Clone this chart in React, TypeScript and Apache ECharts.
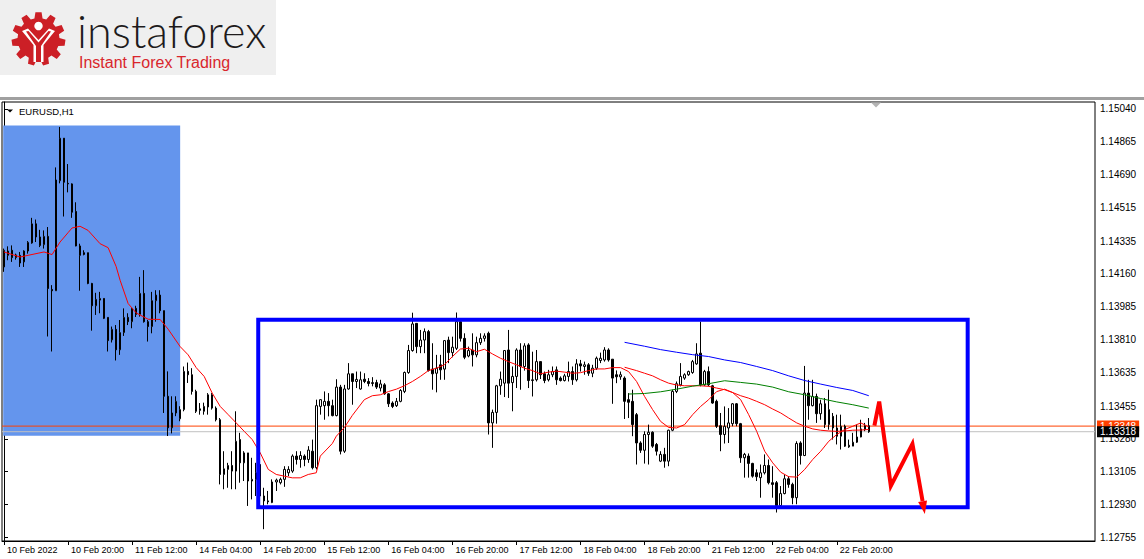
import React, { useEffect, useRef } from "react";
import * as echarts from "echarts";

// ---------- DATA ----------
const symbolTitle = "EURUSD,H1";
const xTickIndex = [0, 16, 32, 48, 64, 80, 96, 112, 128, 144, 160, 176, 192, 208];
const xTickLabels = [
  "10 Feb 2022", "10 Feb 20:00", "11 Feb 12:00", "14 Feb 04:00", "14 Feb 20:00",
  "15 Feb 12:00", "16 Feb 04:00", "16 Feb 20:00", "17 Feb 12:00", "18 Feb 04:00",
  "18 Feb 20:00", "21 Feb 12:00", "22 Feb 04:00", "22 Feb 20:00",
];
const yTicks = [
  1.12755, 1.1293, 1.13105, 1.1328, 1.13455, 1.13635, 1.1381, 1.13985,
  1.1416, 1.14335, 1.14515, 1.1469, 1.14865, 1.1504,
];
const totalSlots = 273;

// [open, close, low, high]
const ohlc: number[][] = [
  [1.14197, 1.14286, 1.14171, 1.14295], [1.14259, 1.14282, 1.14233, 1.14307], [1.14286, 1.14247, 1.14224, 1.14312],
  [1.14247, 1.14261, 1.14236, 1.14268], [1.14259, 1.14218, 1.14197, 1.14277], [1.14224, 1.14282, 1.14197, 1.14286],
  [1.14282, 1.14328, 1.14268, 1.14335], [1.14325, 1.14427, 1.14321, 1.14459], [1.14427, 1.14357, 1.1433, 1.1445],
  [1.14357, 1.14312, 1.14303, 1.14395], [1.14316, 1.1436, 1.14295, 1.14392], [1.1436, 1.14082, 1.13826, 1.1441],
  [1.14077, 1.1407, 1.13746, 1.141], [1.1407, 1.14661, 1.1407, 1.14728], [1.14657, 1.14884, 1.14643, 1.14944],
  [1.14884, 1.14649, 1.14466, 1.14884], [1.14643, 1.1464, 1.14595, 1.14746], [1.1464, 1.14489, 1.14459, 1.14643],
  [1.14493, 1.14309, 1.14307, 1.14542], [1.14309, 1.14259, 1.1407, 1.14321], [1.14273, 1.14264, 1.14259, 1.14286],
  [1.14273, 1.14109, 1.14105, 1.14273], [1.14109, 1.1399, 1.13857, 1.14112], [1.1399, 1.14024, 1.13941, 1.14059],
  [1.1402, 1.14029, 1.1395, 1.14064], [1.14029, 1.13923, 1.13919, 1.14029], [1.13928, 1.13804, 1.13746, 1.13928],
  [1.13808, 1.13864, 1.13794, 1.13879], [1.13864, 1.13755, 1.13698, 1.13887], [1.13755, 1.13847, 1.13728, 1.13914],
  [1.13847, 1.13928, 1.13829, 1.13976], [1.13928, 1.13905, 1.13887, 1.1395], [1.13905, 1.13976, 1.1387, 1.13981],
  [1.13976, 1.13944, 1.1393, 1.1399], [1.13944, 1.14056, 1.13932, 1.14144], [1.14056, 1.13905, 1.139, 1.1418],
  [1.13905, 1.13879, 1.13799, 1.13914], [1.13879, 1.14017, 1.13843, 1.14064], [1.14017, 1.14047, 1.13905, 1.14073],
  [1.14047, 1.13964, 1.1395, 1.14073], [1.13964, 1.13507, 1.13418, 1.13964], [1.13507, 1.13339, 1.13295, 1.1364],
  [1.13339, 1.13418, 1.13309, 1.13507], [1.13418, 1.1348, 1.13401, 1.13507], [1.13387, 1.13436, 1.13374, 1.13454],
  [1.13436, 1.1364, 1.13427, 1.13666], [1.1364, 1.13622, 1.13578, 1.13687], [1.13622, 1.13533, 1.13516, 1.13657],
  [1.13533, 1.13427, 1.13418, 1.13542], [1.1344, 1.13432, 1.13409, 1.13471], [1.13427, 1.13453, 1.13409, 1.13473],
  [1.1345, 1.13515, 1.13409, 1.13524], [1.13515, 1.13444, 1.13436, 1.13524], [1.13444, 1.13382, 1.13373, 1.13453],
  [1.13382, 1.1309, 1.13037, 1.13391], [1.1309, 1.1312, 1.13011, 1.13214], [1.13117, 1.13138, 1.13019, 1.13152],
  [1.13138, 1.13108, 1.13011, 1.13214], [1.13108, 1.13267, 1.13011, 1.13427], [1.13276, 1.13152, 1.13046, 1.13312],
  [1.13152, 1.13205, 1.13055, 1.13214], [1.13205, 1.13055, 1.12922, 1.13205], [1.13055, 1.13064, 1.12957, 1.13179],
  [1.13064, 1.13099, 1.12975, 1.13152], [1.13143, 1.12975, 1.12931, 1.1317], [1.12975, 1.12949, 1.12798, 1.13019],
  [1.12949, 1.12944, 1.12931, 1.13002], [1.1294, 1.1305, 1.12937, 1.13064], [1.1305, 1.1306, 1.13002, 1.13068],
  [1.13046, 1.13064, 1.13037, 1.13073], [1.13064, 1.13117, 1.13024, 1.13134], [1.13099, 1.13117, 1.13081, 1.13134],
  [1.13108, 1.13188, 1.13099, 1.13197], [1.13188, 1.1317, 1.13143, 1.13214], [1.1317, 1.13191, 1.13126, 1.13214],
  [1.13188, 1.1317, 1.13134, 1.13197], [1.1317, 1.1322, 1.13152, 1.13241], [1.13214, 1.13126, 1.13117, 1.13276],
  [1.13126, 1.13457, 1.13117, 1.13489], [1.13453, 1.13489, 1.13409, 1.13492], [1.13457, 1.1348, 1.13382, 1.13533],
  [1.1348, 1.13457, 1.134, 1.13524], [1.13457, 1.13404, 1.134, 1.13489], [1.13404, 1.13556, 1.134, 1.13598],
  [1.13556, 1.13214, 1.13197, 1.13568], [1.13214, 1.13546, 1.13205, 1.13568], [1.13546, 1.13627, 1.13542, 1.13684],
  [1.13627, 1.13586, 1.13462, 1.13627], [1.13586, 1.13597, 1.13551, 1.13639], [1.13546, 1.13595, 1.13542, 1.13639],
  [1.13598, 1.13586, 1.13577, 1.1363], [1.13586, 1.13575, 1.1356, 1.13604], [1.13575, 1.1358, 1.1356, 1.13609],
  [1.1358, 1.13556, 1.13546, 1.13595], [1.13551, 1.13573, 1.13533, 1.13595], [1.13568, 1.1352, 1.13515, 1.13577],
  [1.1352, 1.13467, 1.1345, 1.13524], [1.13471, 1.13453, 1.13444, 1.1348], [1.13457, 1.1348, 1.1345, 1.13498],
  [1.1348, 1.13538, 1.13475, 1.13545], [1.13533, 1.13634, 1.13524, 1.13639], [1.13634, 1.13751, 1.13627, 1.13781],
  [1.13751, 1.13893, 1.13745, 1.13953], [1.13896, 1.13772, 1.13737, 1.13896], [1.13772, 1.13807, 1.13737, 1.13861],
  [1.13807, 1.13852, 1.13737, 1.13869], [1.13852, 1.13645, 1.13639, 1.13861], [1.13652, 1.13627, 1.13542, 1.1379],
  [1.1363, 1.13657, 1.13528, 1.13728], [1.13675, 1.13648, 1.13595, 1.13728], [1.13652, 1.13804, 1.13595, 1.13807],
  [1.13807, 1.1374, 1.13684, 1.13825], [1.1374, 1.13769, 1.13715, 1.13825], [1.13763, 1.13905, 1.13754, 1.13954],
  [1.13905, 1.13816, 1.13799, 1.13923], [1.13816, 1.13715, 1.13705, 1.13843], [1.13722, 1.13751, 1.13715, 1.13772],
  [1.13754, 1.13728, 1.13666, 1.13843], [1.13728, 1.13793, 1.13715, 1.13825], [1.13793, 1.13816, 1.13781, 1.13843],
  [1.13816, 1.13829, 1.13799, 1.13843], [1.13843, 1.13365, 1.13303, 1.13852], [1.13365, 1.13421, 1.13232, 1.13436],
  [1.13421, 1.13563, 1.13361, 1.13568], [1.13563, 1.13598, 1.13515, 1.13639], [1.13577, 1.13751, 1.13503, 1.13754],
  [1.13754, 1.13577, 1.13498, 1.13861], [1.1358, 1.13613, 1.13427, 1.13666], [1.13613, 1.13754, 1.13551, 1.13763],
  [1.13754, 1.13666, 1.13542, 1.1379], [1.13666, 1.13776, 1.13644, 1.1379], [1.13781, 1.13591, 1.13551, 1.1379],
  [1.13591, 1.13595, 1.13506, 1.13745], [1.13595, 1.13692, 1.13586, 1.13754], [1.13692, 1.13622, 1.13599, 1.13692],
  [1.13627, 1.13591, 1.13577, 1.13639], [1.13595, 1.13622, 1.13586, 1.13648], [1.13622, 1.13639, 1.13609, 1.13666],
  [1.13648, 1.13595, 1.13568, 1.13666], [1.13604, 1.13591, 1.13586, 1.13613], [1.13591, 1.13616, 1.13586, 1.13627],
  [1.13613, 1.13639, 1.13586, 1.13692], [1.13639, 1.13595, 1.13568, 1.13666], [1.13595, 1.1368, 1.13586, 1.13705],
  [1.1368, 1.13669, 1.13639, 1.13701], [1.13666, 1.13675, 1.13622, 1.13692], [1.13675, 1.1363, 1.13616, 1.13684],
  [1.1363, 1.13657, 1.13609, 1.13675], [1.13657, 1.1371, 1.13648, 1.13719], [1.13698, 1.1371, 1.13684, 1.1374],
  [1.13701, 1.13754, 1.13692, 1.13769], [1.13754, 1.13701, 1.13692, 1.13763], [1.13705, 1.13604, 1.13467, 1.13705],
  [1.13622, 1.13611, 1.13577, 1.13645], [1.13611, 1.13622, 1.13595, 1.13639], [1.13604, 1.1348, 1.13386, 1.13613],
  [1.13489, 1.13475, 1.13391, 1.13524], [1.1348, 1.13356, 1.13294, 1.13542], [1.13409, 1.13258, 1.13143, 1.13418],
  [1.13258, 1.13219, 1.13205, 1.13267], [1.13219, 1.13303, 1.13148, 1.1332], [1.13303, 1.13315, 1.13143, 1.13356],
  [1.13315, 1.13241, 1.13232, 1.1332], [1.1325, 1.13214, 1.13191, 1.13258], [1.13161, 1.13197, 1.13156, 1.13214],
  [1.13197, 1.13161, 1.13126, 1.13232], [1.13161, 1.13326, 1.13134, 1.13329], [1.13326, 1.13533, 1.13321, 1.13542],
  [1.13533, 1.13574, 1.13524, 1.13586], [1.13568, 1.13613, 1.1356, 1.13684], [1.13604, 1.13622, 1.13595, 1.1363],
  [1.13622, 1.13639, 1.13616, 1.13644], [1.13634, 1.13692, 1.13627, 1.13701], [1.1368, 1.13733, 1.13675, 1.1379],
  [1.13737, 1.13568, 1.1356, 1.13905], [1.13568, 1.13639, 1.13563, 1.13648], [1.13639, 1.13568, 1.1356, 1.13666],
  [1.13563, 1.13471, 1.13467, 1.13568], [1.1348, 1.13347, 1.13338, 1.13489], [1.1335, 1.13303, 1.13214, 1.13418],
  [1.13303, 1.13347, 1.13255, 1.13453], [1.13338, 1.13365, 1.13258, 1.13444], [1.13361, 1.13467, 1.13347, 1.13471],
  [1.13467, 1.13361, 1.13347, 1.13471], [1.13361, 1.13179, 1.13152, 1.13365], [1.13179, 1.13197, 1.13073, 1.13205],
  [1.13188, 1.13149, 1.13073, 1.13202], [1.13149, 1.13081, 1.13073, 1.13152], [1.13099, 1.13078, 1.13055, 1.13117],
  [1.13073, 1.13099, 1.12966, 1.13143], [1.13099, 1.13138, 1.1309, 1.13197], [1.13138, 1.13046, 1.13037, 1.1317],
  [1.13046, 1.13037, 1.12966, 1.13134], [1.13046, 1.12924, 1.12887, 1.13055], [1.12924, 1.12988, 1.12922, 1.13028],
  [1.12988, 1.13067, 1.12984, 1.1309], [1.13067, 1.13037, 1.13019, 1.13081], [1.13037, 1.12966, 1.12931, 1.13046],
  [1.12966, 1.13255, 1.12931, 1.13267], [1.13258, 1.13191, 1.13143, 1.13267], [1.13191, 1.13524, 1.13188, 1.13669],
  [1.13524, 1.13457, 1.13382, 1.13595], [1.13457, 1.13506, 1.13453, 1.13595], [1.13506, 1.13414, 1.13365, 1.13521],
  [1.13414, 1.13467, 1.13382, 1.13489], [1.13467, 1.13356, 1.13338, 1.13498], [1.13356, 1.13436, 1.13329, 1.13542],
  [1.134, 1.13338, 1.13276, 1.13418], [1.13338, 1.13294, 1.1325, 1.13409], [1.13294, 1.13347, 1.13223, 1.13409],
  [1.13347, 1.13241, 1.13237, 1.13356], [1.13237, 1.13246, 1.13232, 1.13276], [1.13241, 1.13262, 1.13241, 1.13312],
  [1.13262, 1.1329, 1.13258, 1.13356], [1.1329, 1.13333, 1.13288, 1.13382], [1.13329, 1.1335, 1.13321, 1.13365],
  [1.1335, 1.13318, 1.13312, 1.13391],
];

// moving averages: [bar index, value]
const maFast: number[][] = [
  [0, 1.14277], [4, 1.1425], [6, 1.14259], [10, 1.14277], [12, 1.14263], [14, 1.1433], [16, 1.1438], [17, 1.14405],
  [19, 1.14414], [21, 1.14392], [24, 1.14321], [26, 1.143], [28, 1.142], [29, 1.14126], [31, 1.14002], [33, 1.13952],
  [36, 1.13918], [39, 1.13917], [41, 1.13865], [44, 1.13772], [46, 1.13728], [48, 1.1366], [50, 1.13613], [52, 1.13524],
  [54, 1.13453], [56, 1.13409], [58, 1.13365], [60, 1.1332], [62, 1.13276], [64, 1.13205], [66, 1.13117], [68, 1.1309],
  [70, 1.13081], [72, 1.13072], [74, 1.13072], [76, 1.1309], [78, 1.13099], [79, 1.13188], [82, 1.13255], [83, 1.13294],
  [85, 1.1334], [87, 1.13405], [90, 1.13489], [92, 1.1351], [94, 1.13515], [96, 1.13532], [98, 1.13545], [100, 1.13563],
  [102, 1.13586], [104, 1.13613], [106, 1.13644], [108, 1.13657], [110, 1.13675], [112, 1.13719], [114, 1.13759],
  [116, 1.13763], [118, 1.13745], [120, 1.13758], [122, 1.13733], [124, 1.1371], [126, 1.13692], [128, 1.13675],
  [130, 1.13657], [132, 1.13644], [134, 1.13627], [136, 1.13636], [138, 1.13641], [140, 1.13636], [142, 1.1363],
  [144, 1.13633], [146, 1.13644], [148, 1.13653], [150, 1.13653], [152, 1.1366], [154, 1.1366], [156, 1.13639],
  [158, 1.13586], [160, 1.13506], [162, 1.13436], [164, 1.13373], [166, 1.13341], [168, 1.13338], [170, 1.13356],
  [172, 1.13409], [174, 1.13453], [176, 1.13489], [178, 1.13532], [180, 1.13545], [182, 1.13527], [184, 1.13489],
  [186, 1.13409], [188, 1.1332], [190, 1.13214], [192, 1.13152], [194, 1.13102], [196, 1.13078], [198, 1.13076],
  [200, 1.13117], [202, 1.1317], [204, 1.13214], [206, 1.13267], [208, 1.13303], [210, 1.1333], [212, 1.13347],
  [214, 1.13365], [216, 1.13344],
];
const maSlow: number[][] = [
  [155, 1.13662], [158, 1.13644], [160, 1.1363], [162, 1.13616], [164, 1.13595], [166, 1.13577], [168, 1.13567],
  [170, 1.13563], [174, 1.13563], [176, 1.1356], [178, 1.13551], [180, 1.13542], [182, 1.13527], [184, 1.1351],
  [186, 1.13497], [188, 1.1348], [190, 1.13462], [192, 1.13439], [194, 1.13418], [196, 1.13391], [198, 1.13365],
  [200, 1.13347], [202, 1.13333], [204, 1.13326], [206, 1.13322], [208, 1.1332], [210, 1.13322], [212, 1.13326],
  [214, 1.13327], [216, 1.1333],
];
const maGreen: number[][] = [
  [156, 1.13519], [160, 1.13522], [164, 1.13531], [168, 1.13545], [172, 1.13561], [176, 1.13574], [180, 1.1359],
  [184, 1.13581], [188, 1.13572], [192, 1.13556], [196, 1.13531], [200, 1.13515], [204, 1.13495], [208, 1.13477],
  [212, 1.13462], [216, 1.13444],
];
const maBlue: number[][] = [
  [155, 1.13795], [160, 1.13774], [164, 1.13756], [168, 1.13742], [172, 1.13729], [176, 1.13719], [180, 1.13701],
  [184, 1.13687], [188, 1.13666], [192, 1.13644], [196, 1.13616], [200, 1.13591], [204, 1.13572], [208, 1.13554],
  [212, 1.13538], [216, 1.1351],
];

// annotations (bar index / price)
const shadeBox = [-0.2, 1.14952, 44, 1.13296]; // x0, top, x1, bottom
const rangeBox = [63.5, 1.13916, 240.7, 1.12915];
const zigX = [217.4, 218.6, 221.5, 226.9, 230.0];
const zigY = [1.1335, 1.13479, 1.13029, 1.13253, 1.12879];
const priceLines = [
  { value: 1.13348, text: "1.13348", line: "#ff4000", box: "#ff4000" },
  { value: 1.13318, text: "1.13318", line: "#c0c0c0", box: "#000000" },
];

const yMin = 1.12735;
const yMax = 1.15077;

function gearPoints(cx: number, cy: number, rOut: number, rIn: number, teeth: number) {
  const pts: number[][] = [];
  const p = (Math.PI * 2) / teeth;
  for (let k = 0; k < teeth; k++) {
    const a = k * p - Math.PI / 2;
    const seq = [[rIn, a - 0.34 * p], [rOut, a - 0.2 * p], [rOut, a + 0.2 * p], [rIn, a + 0.34 * p]];
    seq.forEach(([r, ang]) => pts.push([cx + r * Math.cos(ang), cy + r * Math.sin(ang)]));
  }
  return pts;
}

export default function App() {
  const ref = useRef<HTMLDivElement>(null);
  useEffect(() => {
    if (!ref.current) return;
    const chart = echarts.init(ref.current, undefined, { renderer: "svg" });
    const cats = Array.from({ length: totalSlots }, (_, i) => String(i));
    const tickSet = new Map<number, string>();
    xTickIndex.forEach((ix, k) => tickSet.set(ix, xTickLabels[k]));
    const font = "Liberation Sans";

    const option: any = {
      animation: false,
      backgroundColor: "#ffffff",
      grid: {
        left: 2, top: 102, width: 1093, height: 439,
        show: true, borderColor: "#000", borderWidth: 1, backgroundColor: "transparent",
      },
      xAxis: [
        {
          type: "category", data: cats, boundaryGap: true,
          axisLine: { show: true, lineStyle: { color: "#000", width: 1 } },
          axisTick: {
            show: true, alignWithLabel: true, length: 4, lineStyle: { color: "#000" },
            interval: (i: number) => tickSet.has(i),
          },
          axisLabel: {
            interval: (i: number) => tickSet.has(i),
            formatter: (_v: string, i: number) => tickSet.get(i) || "",
            align: "left", margin: 4, padding: [0, 0, 0, 3],
            color: "#000", fontSize: 9, fontFamily: font,
          },
          splitLine: { show: false },
        },
        { type: "value", min: -0.5, max: totalSlots - 0.5, show: false },
      ],
      yAxis: {
        type: "value", position: "right", min: yMin, max: yMax,
        axisLine: { show: true, lineStyle: { color: "#000" } },
        axisTick: { show: true, length: 4, customValues: yTicks, lineStyle: { color: "#000" } },
        axisLabel: {
          customValues: yTicks, formatter: (v: number) => v.toFixed(5),
          color: "#000", fontSize: 10, fontFamily: font, margin: 5,
        },
        splitLine: { show: false },
      },
      graphic: [
        { type: "rect", shape: { x: 0, y: 0, width: 276, height: 75 }, style: { fill: "#efefef" }, z: 1 },
        { type: "polygon", shape: { points: gearPoints(38.5, 39, 27, 21, 11) }, style: { fill: "#cc1f26" }, z: 2 },
        { type: "polygon", shape: { points: [[22, 31], [28, 28.5], [38.5, 40], [49, 28.5], [55, 31], [43.5, 45], [43.5, 62], [33.5, 62], [33.5, 45]] }, style: { fill: "#ffffff" }, z: 3 },
        { type: "polygon", shape: { points: [[26, 31.5], [28.5, 31], [38.5, 42.5], [48.5, 31], [51, 31.5], [41, 46], [41, 62], [36, 62], [36, 46]] }, style: { fill: "#cc1f26" }, z: 4 },
        { type: "circle", shape: { cx: 38.5, cy: 26, r: 4.2 }, style: { fill: "#ffffff" }, z: 4 },
        { type: "text", x: 77, y: 31, style: { text: "instaforex", fontFamily: "Lato", fontWeight: 300, fontSize: 45, fill: "#1e1b1c", verticalAlign: "middle" }, z: 5 },
        { type: "text", x: 79, y: 62, style: { text: "Instant Forex Trading", fontFamily: font, fontSize: 16, fill: "#d9262c", verticalAlign: "middle" }, z: 5 },
        { type: "rect", shape: { x: 0, y: 97, width: 1144, height: 3 }, style: { fill: "#a0a0a0" }, z: 5 },
        { type: "polygon", shape: { points: [[7, 109.5], [13, 109.5], [10, 112.5]] }, style: { fill: "#000" }, z: 5 },
        { type: "text", x: 19, y: 111.5, style: { text: symbolTitle, fontFamily: font, fontSize: 9.5, fill: "#000", verticalAlign: "middle" }, z: 5 },
        { type: "polygon", shape: { points: [[871, 102.5], [881, 102.5], [876, 107.5]] }, style: { fill: "#b4b4b4" }, z: 5 },
      ],
      series: [
        {
          type: "custom", xAxisIndex: 1, yAxisIndex: 0, z: 1,
          data: [shadeBox],
          renderItem: (_p: any, api: any) => {
            const a = api.coord([api.value(0), api.value(1)]);
            const b = api.coord([api.value(2), api.value(3)]);
            return { type: "rect", shape: { x: a[0], y: a[1], width: b[0] - a[0], height: b[1] - a[1] }, style: { fill: "#6495ed" } };
          },
        },
        ...priceLines.map((p, k) => ({
          type: "line", xAxisIndex: 1, yAxisIndex: 0, z: 2 + k * 0.1, silent: true, symbol: "none",
          data: [[-0.5, p.value], [totalSlots - 0.5, p.value]],
          lineStyle: { color: p.line, width: 1 },
          endLabel: {
            show: true, formatter: () => p.text, distance: 2,
            color: "#fff", backgroundColor: p.box, padding: [1, 3, 0, 3],
            fontSize: 10, fontFamily: font,
          },
        })),
        {
          type: "candlestick", xAxisIndex: 0, yAxisIndex: 0, z: 3,
          data: ohlc, barWidth: 2,
          itemStyle: { color: "#ffffff", color0: "#000000", borderColor: "#000000", borderColor0: "#000000", borderWidth: 1 },
        },
        ...[
          { d: maFast, c: "#ff0000" },
          { d: maSlow, c: "#ff0000" },
          { d: maGreen, c: "#008000" },
          { d: maBlue, c: "#0000ff" },
        ].map((s) => ({
          type: "line", xAxisIndex: 1, yAxisIndex: 0, z: 4, data: s.d, symbol: "none",
          lineStyle: { color: s.c, width: 1 }, silent: true,
        })),
        {
          type: "custom", xAxisIndex: 1, yAxisIndex: 0, z: 5,
          data: [rangeBox],
          renderItem: (_p: any, api: any) => {
            const a = api.coord([api.value(0), api.value(1)]);
            const b = api.coord([api.value(2), api.value(3)]);
            return { type: "rect", shape: { x: a[0], y: a[1], width: b[0] - a[0], height: b[1] - a[1] }, style: { fill: "none", stroke: "#0000ff", lineWidth: 4 } };
          },
        },
        {
          type: "custom", xAxisIndex: 1, yAxisIndex: 0, z: 6,
          data: [[zigX[0], zigY[0]]],
          renderItem: (_p: any, api: any) => {
            const pts = zigX.map((x, i) => api.coord([x, zigY[i]]));
            const tip = pts[pts.length - 1];
            const prev = pts[pts.length - 2];
            const dx = tip[0] - prev[0], dy = tip[1] - prev[1];
            const len = Math.hypot(dx, dy);
            const ux = dx / len, uy = dy / len;
            const headLen = 13, headW = 4.5;
            const base = [tip[0] - ux * headLen, tip[1] - uy * headLen];
            const linePts = pts.slice(0, -1).concat([base]);
            return {
              type: "group",
              children: [
                { type: "polyline", shape: { points: linePts }, style: { stroke: "#ff0000", lineWidth: 4, fill: "none", lineJoin: "miter" } },
                {
                  type: "polygon",
                  shape: { points: [tip, [base[0] - uy * headW, base[1] + ux * headW], [base[0] + uy * headW, base[1] - ux * headW]] },
                  style: { fill: "#ff0000" },
                },
              ],
            };
          },
        },
      ],
    };
    chart.setOption(option);
    return () => chart.dispose();
  }, []);
  return <div ref={ref} style={{ position: "fixed", left: 0, top: 0, width: 1144, height: 559 }} />;
}
